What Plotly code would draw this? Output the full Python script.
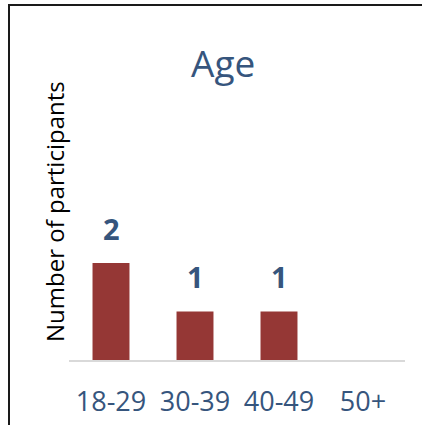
import plotly.graph_objects as go

# Age groups and participant counts
age_groups = ["18-29", "30-39", "40-49", "50+"]
participants = [2, 1, 1, 0]

chart_title = "Age"
y_title = "Number of participants"

BAR_COLOR = "#953735"
TEXT_BLUE = "#36557D"
FONT = "Open Sans"

# Plot-area geometry (pixels) used to place items in paper coordinates
W, H = 422, 425
L, R, T, B = 69, 17, 62, 65
PW, PH = W - L - R, H - T - B


def px_x(x):
    return (x - L) / PW


def px_y(y):
    return (H - B - y) / PH


fig = go.Figure(
    go.Bar(
        x=age_groups,
        y=participants,
        marker=dict(color=BAR_COLOR, line=dict(width=0)),
        hoverinfo="skip",
    )
)

# Value labels above the bars (zero-count groups get no label)
for cat, val in zip(age_groups, participants):
    if val > 0:
        fig.add_annotation(
            x=cat, y=val, xref="x", yref="y",
            text=f"<b>{val}</b>", showarrow=False,
            yanchor="middle", yshift=35,
            font=dict(family=FONT, size=29, color=TEXT_BLUE),
        )

# Chart title
fig.add_annotation(
    x=px_x(223), y=px_y(62), xref="paper", yref="paper",
    text=chart_title, showarrow=False, xanchor="center", yanchor="middle",
    font=dict(family=FONT, size=37, color=TEXT_BLUE),
)

# Vertical axis title
fig.add_annotation(
    x=px_x(54), y=px_y(212), xref="paper", yref="paper",
    text=y_title, showarrow=False, textangle=-90,
    xanchor="center", yanchor="middle",
    font=dict(family=FONT, size=24, color="#000000"),
)

# Outer chart frame
fig.add_shape(
    type="rect", xref="paper", yref="paper",
    x0=px_x(9), x1=px_x(437), y0=px_y(440), y1=px_y(5),
    line=dict(color="#1a1a1a", width=2), fillcolor="rgba(0,0,0,0)",
    layer="above",
)

fig.update_layout(
    width=W, height=H,
    margin=dict(l=L, r=R, t=T, b=B, autoexpand=False),
    paper_bgcolor="white", plot_bgcolor="white",
    bargap=0.56,
    showlegend=False,
    font=dict(family=FONT),
)
fig.update_xaxes(
    automargin=False,
    showline=True, linecolor="#D9D9D9", linewidth=1.5,
    showgrid=False, ticks="", ticklabelstandoff=17,
    tickfont=dict(family=FONT, size=27, color=TEXT_BLUE),
)
fig.update_yaxes(
    automargin=False,
    range=[0, PH / 48.5], visible=False, showgrid=False, zeroline=False,
)

fig.write_html("out.html")
